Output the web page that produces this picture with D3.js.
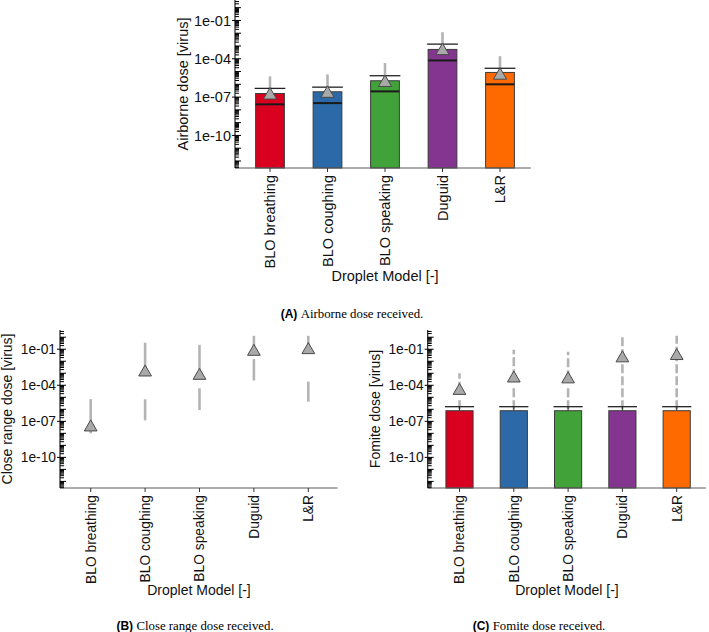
<!DOCTYPE html>
<html><head><meta charset="utf-8">
<script src="https://cdn.jsdelivr.net/npm/d3@7"></script>
<style>body{margin:0;background:#fff}svg{display:block}</style>
</head><body>
<svg id="c" width="709" height="632"></svg>
<script>
// ---------- data ----------
const categories = ["BLO breathing","BLO coughing","BLO speaking","Duguid","L&R"];
const barColors = ["#d8001e","#2c69a8","#41a23a","#84358f","#ff6a00"];
const tickValues = [1e-1,1e-4,1e-7,1e-10];
const tickLabels = ["1e-01","1e-04","1e-07","1e-10"];

// (A) Airborne dose
const airBar    = [1.9e-7, 2.6e-7, 1.9e-6, 5.4e-4, 8.5e-6];
const airMedian = [2.7e-8, 3.4e-8, 2.8e-7, 7.4e-5, 1.0e-6];
const airMean   = [1.4e-7, 1.9e-7, 1.35e-6, 4.2e-4, 5.0e-6];
const airCap    = [4.8e-7, 6.0e-7, 4.7e-6, 1.4e-3, 1.8e-5];
const airWhisk  = [[[1e-8,4.2e-6]],[[1e-8,6.0e-6]],[[1e-7,4.6e-5]],[[1e-5,1.2e-2]],[[1e-6,1.6e-4]]];

// (B) Close range dose
const closeBar   = [0, 0, 0, 0, 0];
const closeMean  = [3.2e-8, 1.2e-3, 6.3e-4, 6.3e-2, 8.7e-2];
const closeWhisk = [[[1e-8,7.0e-6]],
                    [[1.2e-7,6.8e-6],[1.2e-3,0.35]],
                    [[8.7e-7,5.6e-5],[6.3e-4,0.23]],
                    [[2.5e-4,1.5e-2],[6.3e-2,1.3]],
                    [[4.3e-6,2.0e-4],[8.7e-2,1.3]]];

// (C) Fomite dose
const fomBar   = [7.6e-7, 7.6e-7, 7.6e-7, 7.6e-7, 7.6e-7];
const fomMean  = [3.5e-5, 3.8e-4, 3.2e-4, 1.8e-2, 2.8e-2];
const fomCap   = [1.65e-6, 1.65e-6, 1.65e-6, 1.65e-6, 1.65e-6];
const fomWhisk = [[[1e-6,1.0e-5],[3.5e-5,1.0e-3]],
                  [[1e-6,1.0e-4],[3.8e-4,9.0e-2]],
                  [[1e-6,8.0e-5],[3.2e-4,6.3e-2]],
                  [[1e-6,1.8e-2],[1.8e-2,1.3]],
                  [[1e-6,2.8e-2],[2.8e-2,1.3]]];

// ---------- drawing ----------
const svg = d3.select("#c");
const domain = [Math.pow(10,-12.55), Math.pow(10,0.6)];
const SANS = "'Liberation Sans', Arial, sans-serif";

function panel(o){
  const g = svg.append("g");
  const x = d3.scaleBand().domain(categories).range(o.xr).paddingInner(0.5).paddingOuter(0.25);
  const y = d3.scaleLog().domain(domain).range(o.yr).clamp(true);
  const bw = x.bandwidth();
  const cx = c => x(c) + bw/2;
  const yb = o.yr[0];

  // whiskers (gray)
  categories.forEach((c,i)=>{
    o.whisk[i].forEach(s=>{
      g.append("line").attr("x1",cx(c)).attr("x2",cx(c))
        .attr("y1",y(s[0])).attr("y2",y(s[1]))
        .attr("stroke","#b4b4b4").attr("stroke-width",2.6)
        .attr("stroke-dasharray",o.dash||null);
    });
  });
  // bars
  g.selectAll("rect.bar").data(categories).join("rect")
    .attr("x",c=>x(c)).attr("width",bw)
    .attr("y",(c,i)=> o.bar[i] > 0 ? y(o.bar[i]) : yb)
    .attr("height",(c,i)=> o.bar[i] > 0 ? yb - y(o.bar[i]) : 0)
    .attr("fill",(c,i)=>barColors[i])
    .attr("stroke",(c,i)=> o.bar[i] > 0 ? "#3a3a3a" : "#555")
    .attr("stroke-width",(c,i)=> o.bar[i] > 0 ? 1 : 1.6);
  // median lines
  if(o.median){
    categories.forEach((c,i)=>{
      g.append("line").attr("x1",x(c)).attr("x2",x(c)+bw)
        .attr("y1",y(o.median[i])).attr("y2",y(o.median[i]))
        .attr("stroke","#1a1a1a").attr("stroke-width",2);
    });
  }
  // caps
  if(o.cap){
    categories.forEach((c,i)=>{
      g.append("line").attr("x1",cx(c)).attr("x2",cx(c))
        .attr("y1",y(o.bar[i])).attr("y2",y(o.cap[i]))
        .attr("stroke","#333").attr("stroke-width",1);
      g.append("line").attr("x1",x(c)-1).attr("x2",x(c)+bw+1)
        .attr("y1",y(o.cap[i])).attr("y2",y(o.cap[i]))
        .attr("stroke","#222").attr("stroke-width",1.3);
    });
  }
  // mean triangles
  const tri = d3.symbol().type(d3.symbolTriangle).size(o.tsize);
  categories.forEach((c,i)=>{
    g.append("path").attr("d",tri())
      .attr("transform",`translate(${cx(c)},${y(o.mean[i])})`)
      .attr("fill","#a9a9a9").attr("stroke","#4a4a4a").attr("stroke-width",1);
  });

  // x axis baseline
  g.append("line").attr("x1",o.ax).attr("x2",o.xr[1]+2).attr("y1",yb).attr("y2",yb)
    .attr("stroke","#5a5a5a").attr("stroke-width",1.2);
  // x ticks and labels
  categories.forEach(c=>{
    g.append("line").attr("x1",cx(c)).attr("x2",cx(c)).attr("y1",yb).attr("y2",yb+4)
      .attr("stroke","#333").attr("stroke-width",1);
    g.append("text").attr("transform",`translate(${cx(c)+o.fs*0.36},${yb+7}) rotate(-90)`)
      .attr("text-anchor","end").attr("font-family",SANS).attr("font-size",o.fs)
      .attr("fill","#111").text(c);
  });
  g.append("text").attr("x",o.titleX).attr("y",o.titleY).attr("text-anchor","middle")
    .attr("font-family",SANS).attr("font-size",o.tfs).attr("fill","#111").text("Droplet Model [-]");

  // y axis
  g.append("line").attr("x1",o.ax).attr("x2",o.ax).attr("y1",o.yr[1]).attr("y2",yb)
    .attr("stroke","#222").attr("stroke-width",1.2);
  const minors = [];
  for(let d=-13; d<=1; d++){
    for(let m=1; m<=9; m++){
      const v = m*Math.pow(10,d);
      if(v>=domain[0] && v<=domain[1]) minors.push({v, major:m===1});
    }
  }
  minors.forEach(t=>{
    g.append("line").attr("x1",o.ax).attr("x2",o.ax+(t.major?6:4))
      .attr("y1",y(t.v)).attr("y2",y(t.v)).attr("stroke","#000").attr("stroke-width",1);
  });
  tickValues.forEach((v,i)=>{
    g.append("line").attr("x1",o.ax-3).attr("x2",o.ax).attr("y1",y(v)).attr("y2",y(v))
      .attr("stroke","#000").attr("stroke-width",1);
    g.append("text").attr("x",o.ax-4).attr("y",y(v)).attr("dy","0.36em")
      .attr("text-anchor","end").attr("font-family",SANS).attr("font-size",o.fs)
      .attr("fill","#111").text(tickLabels[i]);
  });
  g.append("text").attr("transform",`translate(${o.ylx},${(o.yr[0]+o.yr[1])/2}) rotate(-90)`)
    .attr("text-anchor","middle").attr("font-family",SANS).attr("font-size",o.tfs)
    .attr("fill","#111").text(o.ylabel);

  // caption
  const cap = svg.append("text").attr("x",o.capX).attr("y",o.capY).attr("text-anchor","middle");
  cap.append("tspan").attr("font-family",SANS).attr("font-weight","bold").attr("font-size",12).text(o.capL+" ");
  cap.append("tspan").attr("font-family","'Liberation Serif', 'Times New Roman', serif").attr("font-size",12.8).text(" "+o.capT);
}

panel({xr:[241.25,528.75], yr:[168,0], ax:235, bar:airBar, median:airMedian, mean:airMean, cap:airCap, whisk:airWhisk,
  fs:14.5, tfs:14.5, titleX:385, titleY:281, ylx:188, ylabel:"Airborne dose [virus]", tsize:75,
  capX:352, capY:318, capL:"(A)", capT:"Airborne dose received."});
panel({xr:[63.5,335.5], yr:[488,330], ax:60, bar:closeBar, median:null, mean:closeMean, cap:null, whisk:closeWhisk,
  fs:13.8, tfs:14, titleX:199, titleY:595, ylx:12, ylabel:"Close range dose [virus]", tsize:70,
  capX:195, capY:630, capL:"(B)", capT:"Close range dose received."});
panel({xr:[432.35,703.85], yr:[488,330], ax:427.7, bar:fomBar, median:null, mean:fomMean, cap:fomCap, whisk:fomWhisk,
  fs:13.8, tfs:14, titleX:567, titleY:595, ylx:380, ylabel:"Fomite dose [virus]", tsize:70, dash:"9,3",
  capX:539, capY:630, capL:"(C)", capT:"Fomite dose received."});
</script>
</body></html>
